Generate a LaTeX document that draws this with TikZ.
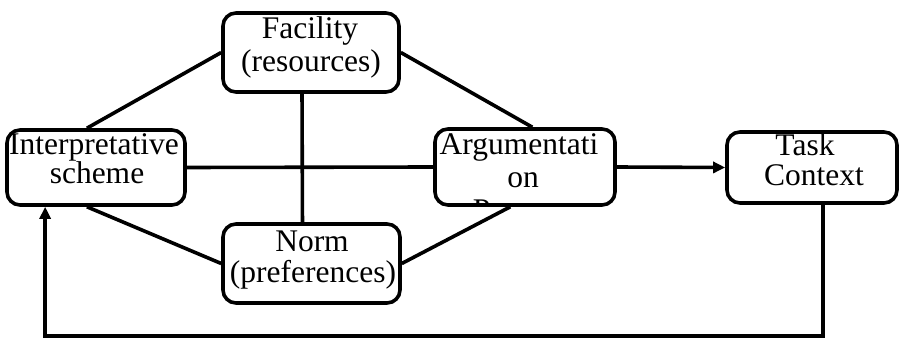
\documentclass[tikz,border=0pt]{standalone}
\usepackage{fontspec}
\setmainfont{Liberation Serif}
\usetikzlibrary{calc,arrows.meta}
\begin{document}
\begin{tikzpicture}[x=1pt,y=-1pt,
  box/.style={draw,line width=3.6pt,rounded corners=13pt,inner sep=0pt},
  lbl/.style={anchor=base,inner sep=0pt,font=\fontsize{31.5}{33}\selectfont},
  conn/.style={line width=3.6pt},
  arr/.style={line width=3.6pt,-{Triangle[length=12pt,width=11pt]}}]
\useasboundingbox (0,0) rectangle (903,339);
% boxes
\node[box,minimum width=176pt,minimum height=79pt] (fac) at (311,52.5) {};
\node[box,minimum width=178pt,minimum height=75pt] (interp) at (96,167.5) {};
\node[box,minimum width=180pt,minimum height=76pt] (arg) at (525,167) {};
\node[box,minimum width=170pt,minimum height=71pt] (task) at (812,167.5) {};
\node[box,minimum width=177pt,minimum height=79pt] (norm) at (311.5,263.5) {};
% labels
\node[lbl] (fac1) at (310,39) {Facility};
\node[lbl] (fac2) at (311,72) {(resources)};
\node[lbl] (int1) at (94,155) {Interpretative};
\node[lbl] (int2) at (97,184) {scheme};
\node[lbl] (tsk1) at (805,156) {Task};
\node[lbl] (tsk2) at (814,186) {Context};
\node[lbl] (nrm1) at (312,252) {Norm};
\node[lbl] (nrm2) at (313,282.5) {(preferences)};
\begin{scope}
  \clip[rounded corners=11pt] ($(arg.north west)+(1.8,1.8)$) rectangle ($(arg.south east)+(-1.8,-1.8)$);
  \node[lbl] (arg1) at (519,155) {Argumentati};
  \node[lbl] (arg2) at (523,188) {on};
  \node[lbl] (arg3) at (521,221) {Process};
\end{scope}
% connector anchor points
\coordinate (iN) at ($(interp.north west)!0.45!(interp.north east)$);
\coordinate (iS) at ($(interp.south west)!0.45!(interp.south east)$);
\coordinate (aN) at ($(arg.north west)!0.54!(arg.north east)$);
\coordinate (aS) at ($(arg.south west)!0.42!(arg.south east)$);
\coordinate (fS) at ($(fac.south west)!0.45!(fac.south east)$);
\coordinate (nN) at ($(norm.north west)!0.45!(norm.north east)$);
\coordinate (tS) at ($(task.south west)!0.565!(task.south east)$);
\coordinate (iS2) at ($(interp.south west)!0.22!(interp.south east)$);
% connectors
\draw[conn] (fac.west) -- (iN);
\draw[conn] (fac.east) -- (aN);
\draw[conn] (fS) -- (nN);
\draw[conn] (interp.east) -- (arg.west);
\draw[conn] (iS) -- (norm.west);
\draw[conn] (aS) -- (norm.east);
\draw[arr] (arg.east) -- (task.west);
\draw[arr] (tS) -- (tS |- 0,336) -- (iS2 |- 0,336) -- (iS2);
\end{tikzpicture}
\end{document}
